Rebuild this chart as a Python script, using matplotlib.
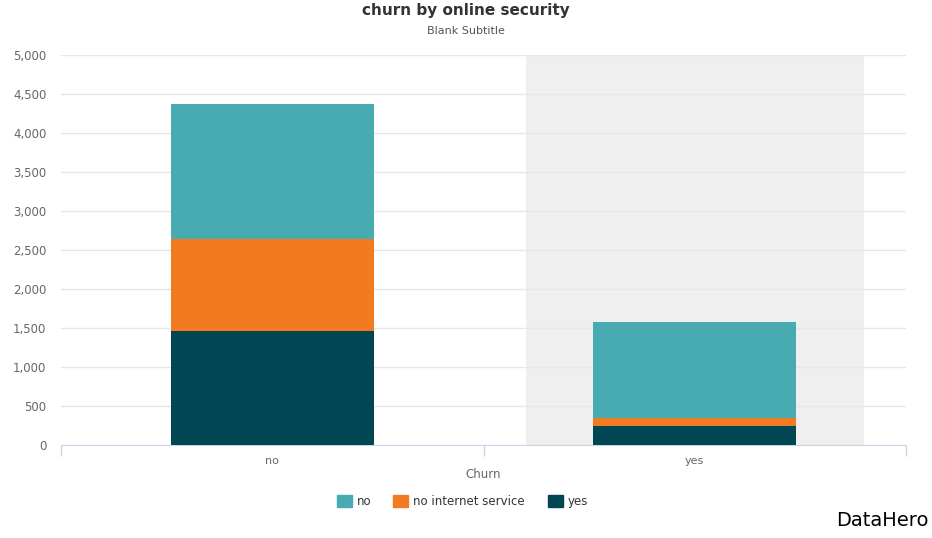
import matplotlib.pyplot as plt
from matplotlib.patches import Rectangle

plt.rcParams['font.family'] = ['DejaVu Sans']

categories = ["no", "yes"]
series_names = ["yes", "no internet service", "no"]
series_values = {
    "yes": [1462, 248],
    "no internet service": [1180, 95],
    "no": [1730, 1238],
}
colors = {
    "no": "#47abb1",
    "no internet service": "#f27b22",
    "yes": "#014753",
}
y_ticks = [0, 500, 1000, 1500, 2000, 2500, 3000, 3500, 4000, 4500, 5000]

W, H = 932, 538
fig = plt.figure(figsize=(W / 100, H / 100), dpi=100)
ax = fig.add_axes([61 / W, 1 - 445 / H, (906 - 61) / W, (445 - 55) / H])

x = list(range(len(categories)))

# hover highlight on the second category
ax.axvspan(0.6, 1.4, color="#efefef", zorder=0, lw=0)

bottom = [0] * len(categories)
for name in series_names:
    vals = series_values[name]
    ax.bar(x, vals, width=0.48, bottom=bottom, color=colors[name],
           edgecolor="none", zorder=3)
    bottom = [b + v for b, v in zip(bottom, vals)]

ax.set_xlim(-0.5, 1.5)
ax.set_ylim(0, 5000)
ax.set_yticks(y_ticks)
ax.set_yticklabels([f"{v:,}" for v in y_ticks])
ax.yaxis.grid(True, color="#e6e6e6", lw=1, zorder=1)
ax.set_axisbelow(True)

ax.set_xticks([-0.5, 0.5, 1.5])
ax.set_xticklabels([])
ax.tick_params(axis="x", length=8, color="#ccd6eb", width=1)
ax.tick_params(axis="y", length=0, labelsize=8.5, labelcolor="#666666", pad=10.5)
for i, c in enumerate(categories):
    ax.text(i, -0.028, c, transform=ax.get_xaxis_transform(), ha="center",
            va="top", fontsize=8, color="#666666")
ax.text(0.5, -0.058, "Churn", transform=ax.transAxes, ha="center",
        va="top", fontsize=8.5, color="#666666")

for s in ["top", "right", "left"]:
    ax.spines[s].set_visible(False)
ax.spines["bottom"].set_color("#ccd6eb")

fig.text(0.5, 1 - 11 / H, "churn by online security", ha="center",
         va="center", fontsize=11, fontweight="bold", color="#333333")
fig.text(0.5, 1 - 31 / H, "Blank Subtitle", ha="center", va="center",
         fontsize=8, color="#555555")

# legend
legend_items = [("no", 337), ("no internet service", 393), ("yes", 548)]
for name, px in legend_items:
    fig.patches.append(Rectangle((px / W, 1 - 507 / H), 15 / W, 12 / H,
                                 transform=fig.transFigure,
                                 color=colors[name]))
    fig.text((px + 20) / W, 1 - 501.5 / H, name, ha="left", va="center",
             fontsize=8.5, color="#333333")

fig.text(929 / W, 1 - 521 / H, "DataHero", ha="right", va="center",
         fontsize=14, color="black")

fig.savefig("out.png", dpi=100)
